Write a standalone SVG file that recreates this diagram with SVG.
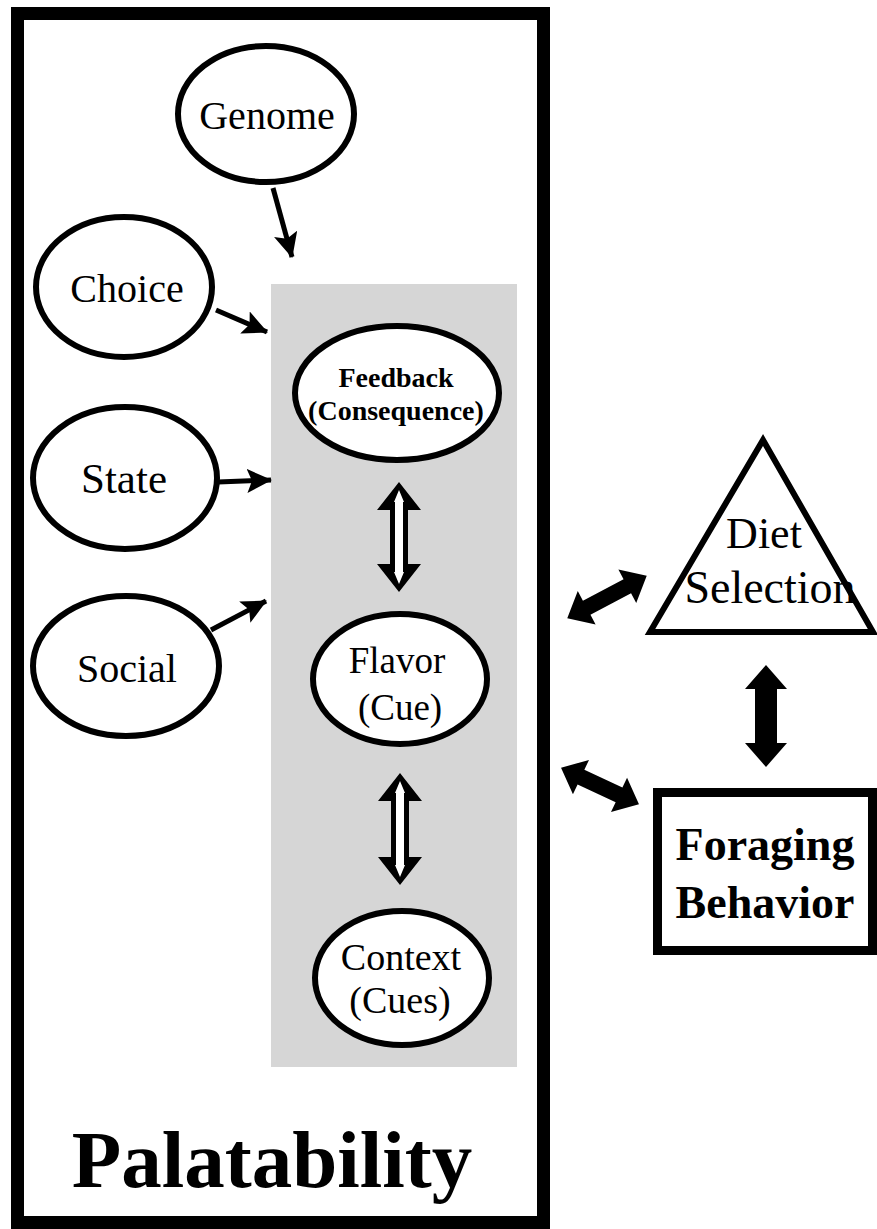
<svg xmlns="http://www.w3.org/2000/svg" width="877" height="1229" viewBox="0 0 877 1229">
<style>
.node{fill:#fff;stroke:#000;stroke-width:6}
.lbl{font-family:"Liberation Serif",serif;fill:#000;text-anchor:middle}
.conn{stroke:#000;stroke-width:5;fill:none}
.solid{fill:#000}
.hollow{fill:#000}
.inner{fill:#fff}
</style>
<defs>
<marker id="ah" markerUnits="userSpaceOnUse" markerWidth="28" markerHeight="26" refX="24" refY="12" orient="auto">
<path d="M0,0 L25,12 L0,24 L5,12 Z" fill="#000"/>
</marker>
</defs>
<rect x="0" y="0" width="877" height="1229" fill="#fff"/>
<rect id="frame" x="17.5" y="13.5" width="526" height="1209" fill="none" stroke="#000" stroke-width="13"/>
<rect id="panel" x="271" y="284" width="246" height="783" fill="#d6d6d6"/>

<g id="connectors">
<line class="conn" x1="273" y1="188" x2="292" y2="257" marker-end="url(#ah)"/>
<line class="conn" x1="216" y1="310" x2="267" y2="332" marker-end="url(#ah)"/>
<line class="conn" x1="218" y1="482" x2="271" y2="480" marker-end="url(#ah)"/>
<line class="conn" x1="211" y1="630" x2="266" y2="601" marker-end="url(#ah)"/>
<g transform="translate(399,537) rotate(90)">
<polygon class="hollow" points="-55,0 -27,-22 -27,-9 27,-9 27,-22 55,0 27,22 27,9 -27,9 -27,22"/>
<polygon class="inner" points="-47,0 -35,-5 -35,-4 35,-4 35,-5 47,0 35,5 35,4 -35,4 -35,5"/>
</g>
<g transform="translate(400,829) rotate(90)">
<polygon class="hollow" points="-56,0 -28,-22 -28,-9 28,-9 28,-22 56,0 28,22 28,9 -28,9 -28,22"/>
<polygon class="inner" points="-48,0 -36,-5 -36,-4 36,-4 36,-5 48,0 36,5 36,4 -36,4 -36,5"/>
</g>
<polygon class="solid" transform="translate(607,597) rotate(-28)" points="-45,0 -23,-19 -23,-8 23,-8 23,-19 45,0 23,19 23,8 -23,8 -23,19"/>
<polygon class="solid" transform="translate(600,786) rotate(25)" points="-43,0 -21,-19 -21,-8 21,-8 21,-19 43,0 21,19 21,8 -21,8 -21,19"/>
<polygon class="solid" transform="translate(766,716) rotate(90)" points="-51,0 -27,-21 -27,-11 27,-11 27,-21 51,0 27,21 27,11 -27,11 -27,21"/>
</g>

<g id="genome">
<ellipse class="node" cx="266" cy="114" rx="88" ry="68"/>
<text class="lbl" x="267" y="129" font-size="40">Genome</text>
</g>
<g id="choice">
<ellipse class="node" cx="124" cy="287" rx="88" ry="70"/>
<text class="lbl" x="127" y="302" font-size="40">Choice</text>
</g>
<g id="state">
<ellipse class="node" cx="125" cy="478" rx="92" ry="71"/>
<text class="lbl" x="124" y="493" font-size="43">State</text>
</g>
<g id="social">
<ellipse class="node" cx="126" cy="666" rx="93" ry="70"/>
<text class="lbl" x="127" y="682" font-size="40">Social</text>
</g>
<g id="feedback">
<ellipse class="node" cx="397" cy="393" rx="102" ry="67"/>
<text class="lbl" x="396" y="387" font-size="28" font-weight="bold">Feedback</text>
<text class="lbl" x="396" y="420" font-size="28" font-weight="bold">(Consequence)</text>
</g>
<g id="flavor">
<ellipse class="node" cx="400" cy="679" rx="87" ry="65"/>
<text class="lbl" x="397" y="673" font-size="37">Flavor</text>
<text class="lbl" x="400" y="720" font-size="37">(Cue)</text>
</g>
<g id="context">
<ellipse class="node" cx="402" cy="978" rx="87" ry="67"/>
<text class="lbl" x="401" y="970" font-size="38">Context</text>
<text class="lbl" x="400" y="1013" font-size="38">(Cues)</text>
</g>
<g id="diet-selection">
<polygon points="763,440 650,632 873,632" fill="#fff" stroke="#000" stroke-width="6" stroke-linejoin="miter"/>
<text class="lbl" x="764" y="548" font-size="44">Diet</text>
<text class="lbl" x="770" y="603" font-size="46">Selection</text>
</g>
<g id="foraging-behavior">
<rect x="657.5" y="792.5" width="215" height="158" fill="#fff" stroke="#000" stroke-width="9"/>
<text class="lbl" x="765" y="860" font-size="46" font-weight="bold">Foraging</text>
<text class="lbl" x="765" y="918" font-size="46" font-weight="bold">Behavior</text>
</g>
<g id="palatability">
<text class="lbl" x="272" y="1187" font-size="81" font-weight="bold">Palatability</text>
</g>
</svg>
